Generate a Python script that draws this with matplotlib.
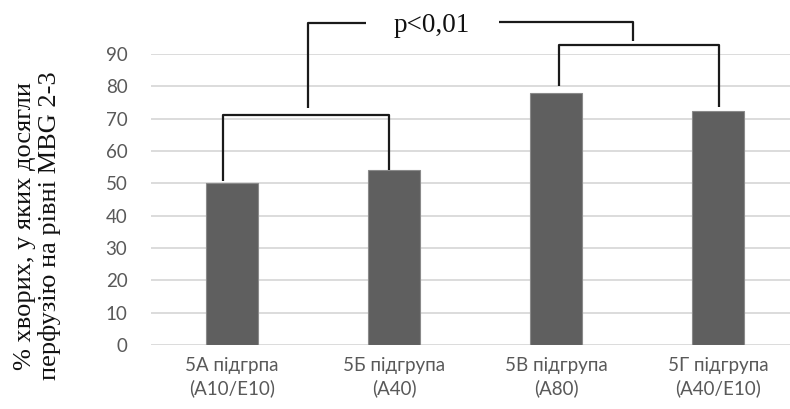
import matplotlib
matplotlib.use("Agg")
import matplotlib.pyplot as plt

categories = ["5А підгрпа\n(А10/Е10)", "5Б підгрупа\n(А40)", "5В підгрупа\n(А80)", "5Г підгрупа\n(А40/Е10)"]
values = [50, 54, 78, 72.5]
yticks = [0, 10, 20, 30, 40, 50, 60, 70, 80, 90]
ylabel = "% хворих, у яких досягли\nперфузію на рівні MBG 2-3"
ptext = "p<0,01"

fig = plt.figure(figsize=(7.9, 4.09), dpi=100)
ax = fig.add_axes([151/790, 1-345/409, (799-151)/790, (345-54)/409])

x = list(range(len(categories)))
ax.bar(x, values, width=0.315, color="#5f5f5f", edgecolor="#8a8a8a", linewidth=0.8, zorder=3)

ax.set_xlim(-0.5, 3.5)
ax.set_ylim(0, 90)
ax.set_yticks(yticks)
ax.yaxis.grid(True, color="#d9d9d9", linewidth=1.3, zorder=0)
ax.set_axisbelow(True)
for s in ax.spines.values():
    s.set_visible(False)
ax.tick_params(axis="both", length=0, colors="#595959", labelsize=13.5)
ax.tick_params(axis="y", pad=17)
ax.tick_params(axis="x", pad=9)
ax.set_xticks(x)
ax.set_xticklabels(categories, fontsize=13.5, fontfamily="Lato", color="#595959", linespacing=1.3)
for t in ax.get_yticklabels():
    t.set_fontfamily("Lato")

fig.text(0.047, 0.447, ylabel, rotation=90, ha="center", va="center",
         fontsize=19, fontfamily="Liberation Serif", color="#111111", linespacing=1.12)

lk = dict(color="#1a1a1a", linewidth=1.6, clip_on=False, zorder=5, solid_capstyle="butt")
# left bracket (groups 1-2)
ax.plot([-0.054, -0.054, 0.9675, 0.9675], [50.6, 71.1, 71.1, 54.1], **lk)
# right bracket (groups 3-4)
ax.plot([2.016, 2.016, 3.004, 3.004], [80.1, 92.8, 92.8, 73.5], **lk)
# upper connector
ax.plot([0.468, 0.468, 0.828], [73.2, 99.5, 99.5], **lk)
ax.plot([1.646, 2.473, 2.473], [99.8, 99.8, 94.1], **lk)
ax.text(1.231, 98.8, ptext, ha="center", va="center", fontsize=19.5,
        fontfamily="Liberation Serif", color="#111111", clip_on=False)

fig.savefig("out.png", dpi=100)
